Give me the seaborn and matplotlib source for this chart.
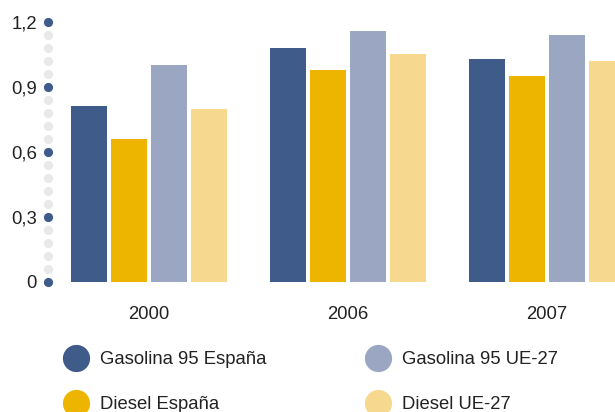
import matplotlib
matplotlib.use('Agg')
import matplotlib.pyplot as plt
import numpy as np
import pandas as pd
import seaborn as sns
from matplotlib.lines import Line2D

years = ['2000', '2006', '2007']
series = ['Gasolina 95 España', 'Diesel España', 'Gasolina 95 UE-27', 'Diesel UE-27']
gasolina_esp = [0.81, 1.08, 1.03]
diesel_esp = [0.66, 0.98, 0.95]
gasolina_ue = [1.00, 1.16, 1.14]
diesel_ue = [0.80, 1.05, 1.02]
colors = ['#3f5b8a', '#eeb500', '#9ba6c3', '#f6d88f']
y_ticks = [0, 0.3, 0.6, 0.9, 1.2]
y_labels = ['0', '0,3', '0,6', '0,9', '1,2']

m_rows = []
for s, vals in zip(series, [gasolina_esp, diesel_esp, gasolina_ue, diesel_ue]):
    for y, v in zip(years, vals):
        m_rows.append({'year': y, 'serie': s, 'value': v})
df = pd.DataFrame(m_rows)

sns.set_style('white')
plt.rcParams['font.family'] = ['Liberation Sans', 'DejaVu Sans']
text_color = '#222222'

W, H = 615, 412
fig = plt.figure(figsize=(W / 100, H / 100), dpi=100)
ax = fig.add_axes([48 / W, (H - 282) / H, 1 - 48 / W, 260 / H])

sns.barplot(data=df, x='year', y='value', hue='serie', hue_order=series, palette=colors,
            width=0.8, gap=0.1, saturation=1, legend=False, ax=ax, linewidth=0)

ax.set_xlim(-0.5075, 2.342)
ax.set_ylim(0, 1.2)
sns.despine(ax=ax, left=True, bottom=True)
ax.set_xlabel('')
ax.set_ylabel('')

# dotted axis: small grey dots between the ticks, blue dots on the ticks
m_small = np.arange(0, 1.2001, 0.06)
m_small = [v for v in m_small if min(abs(v - t) for t in y_ticks) > 0.01]
trans = ax.get_yaxis_transform()
ax.scatter([0] * len(m_small), m_small, s=44, color='#e8e9ea', transform=trans, clip_on=False,
           zorder=5, linewidths=0)
ax.scatter([0] * len(y_ticks), y_ticks, s=44, color='#3f5b8a', transform=trans, clip_on=False,
           zorder=6, linewidths=0)

ax.set_yticks(y_ticks)
ax.set_yticklabels(y_labels)
ax.tick_params(axis='y', length=0, pad=8, labelsize=13.3, labelcolor=text_color)
ax.tick_params(axis='x', length=0, pad=17, labelsize=13.3, labelcolor=text_color)

m_handles = [Line2D([0], [0], marker='o', linestyle='none', markersize=19.6,
                    markerfacecolor=c, markeredgewidth=0) for c in colors]
fig.legend(m_handles, series, loc='upper left', bbox_to_anchor=(62 / W, 1 - 351 / H), ncol=2,
           frameon=False, fontsize=13.3, handlelength=1.5, handletextpad=0.55,
           columnspacing=5.3, labelspacing=1.52, labelcolor=text_color, borderaxespad=0,
           borderpad=0)

plt.savefig('out.png', dpi=100)
